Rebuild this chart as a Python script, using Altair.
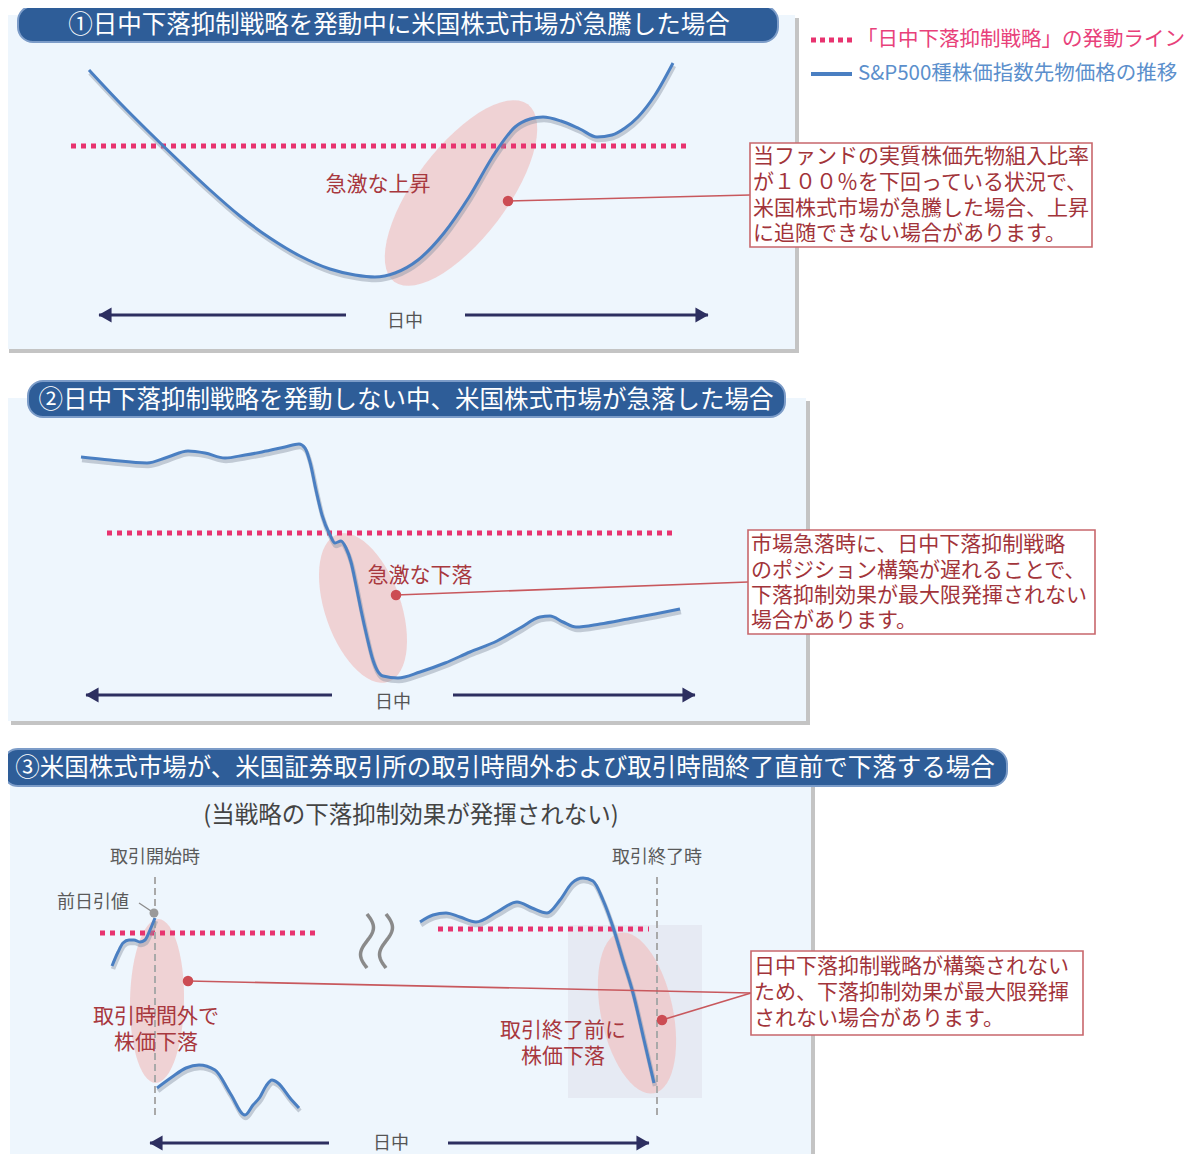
import math
import altair as alt
import pandas as pd

FONT = "Noto Sans CJK JP"

# ---------------- data ----------------
# panel 1 curve (S&P500 futures, sharp rise)
p1_x = [89, 120, 150, 180, 210, 240, 270, 300, 330, 355, 375, 395, 418, 444, 469, 495, 515, 530, 543, 561, 580, 597, 612, 625, 638, 655, 673]
p1_y = [70, 103, 133, 162, 190, 216, 238, 256, 269, 275, 277, 273, 260, 233, 197, 153, 127, 119, 117, 121, 129, 137, 135, 128, 117, 95, 63]
# panel 2 curve (sharp fall)
p2_x = [81, 110, 147, 168, 188, 205, 225, 245, 262, 285, 299, 305, 310, 316, 322, 330, 335, 341, 346, 351, 356, 361, 367, 372, 377, 383, 398, 420, 445, 470, 497, 520, 540, 550, 563, 576, 600, 628, 655, 680]
p2_y = [457, 460, 463, 457, 451, 453, 458, 455, 452, 447, 444, 448, 462, 490, 515, 535, 543, 541, 548, 562, 585, 610, 637, 657, 670, 676, 678, 672, 663, 652, 641, 628, 617, 616, 622, 627, 624, 619, 614, 609]
# panel 3 curve, three separate pieces
p3a_x = [112, 118, 123, 129, 134, 140, 145, 150, 155]
p3a_y = [966, 952, 943, 940, 940, 942, 940, 930, 918]
p3b_x = [157, 172, 186, 199, 215, 230, 245, 253, 260, 266, 272, 278, 290, 299]
p3b_y = [1088, 1077, 1068, 1065, 1070, 1093, 1115, 1105, 1097, 1086, 1080, 1083, 1098, 1108]
p3c_x = [420, 433, 446, 460, 476, 497, 517, 532, 547, 560, 572, 583, 593, 603, 613, 623, 633, 644, 654]
p3c_y = [922, 915, 913, 917, 922, 912, 902, 908, 913, 900, 883, 878, 881, 900, 927, 960, 993, 1040, 1083]

# trigger lines (dotted)
trig_x1 = [71, 107, 100, 438]
trig_x2 = [686, 673, 316, 649]
trig_y = [146, 533, 933, 929]

# panels
panel_x1 = [6, 8, 10]
panel_x2 = [795, 806, 811]
panel_y1 = [15, 398, 770]
panel_y2 = [349, 721, 1170]

# title bars
title_x1 = [18, 28, 3]
title_x2 = [778, 785, 1007]
title_y1 = [6, 381, 749]
title_y2 = [42, 417, 786]
titles = [
    "①日中下落抑制戦略を発動中に米国株式市場が急騰した場合",
    "②日中下落抑制戦略を発動しない中、米国株式市場が急落した場合",
    "③米国株式市場が、米国証券取引所の取引時間外および取引時間終了直前で下落する場合",
]
title_cx = [399, 406, 505]
title_cy = [26, 401, 769]
title_fs = [24.5, 24.5, 24.5]

# callout boxes
box_x1 = [750, 748, 751]
box_x2 = [1092, 1095, 1083]
box_y1 = [143, 530, 951]
box_y2 = [247, 634, 1035]
box_lines = [
    ["当ファンドの実質株価先物組入比率", "が１００％を下回っている状況で、", "米国株式市場が急騰した場合、上昇", "に追随できない場合があります。"],
    ["市場急落時に、日中下落抑制戦略", "のポジション構築が遅れることで、", "下落抑制効果が最大限発揮されない", "場合があります。"],
    ["日中下落抑制戦略が構築されない", "ため、下落抑制効果が最大限発揮", "されない場合があります。"],
]
box_line_y = [[157, 183, 209, 234], [545, 571, 596, 621], [967, 993, 1019]]

# callout leader lines: dot -> box
lead_x = [508, 396, 188, 662]
lead_y = [201, 595, 981, 1020]
lead_x2 = [750, 748, 751, 751]
lead_y2 = [195, 582, 993, 993]

# highlight ellipses: centre, semi-axes, tilt
ell_x = [461, 363, 157, 637]
ell_y = [193, 608, 1001, 1013]
ell_a = [111, 78, 82, 82]
ell_b = [46, 38, 27, 36]
ell_tilt = [307, 71, 91, 78]

# ellipse labels
lab_text = ["急激な上昇", "急激な下落", "取引時間外で", "株価下落", "取引終了前に", "株価下落"]
lab_x = [378, 420, 156, 156, 563, 563]
lab_y = [185, 576, 1017, 1043, 1031, 1057]

# "日中" arrows
arr_y = [315, 695, 1143]
arr_left_tip = [99, 86, 150]
arr_left_end = [346, 332, 329]
arr_right_start = [465, 453, 448]
arr_right_tip = [708, 695, 649]
arr_lab_x = [405, 393, 391]
arr_lab_y = [322, 703, 1144]

# panel 3 session markers
sess_x = [155, 657]
sess_y1 = [877, 877]
sess_y2 = [1118, 1118]
sess_text = ["取引開始時", "取引終了時"]
sess_text_y = [858, 858]

# shaded "before close" zone
zone = dict(x1=568, x2=702, y1=925, y2=1098)

# legend
legend_text = ["「日中下落抑制戦略」の発動ライン", "S&P500種株価指数先物価格の推移"]
legend_y = [40, 74]

# ---------------- helpers ----------------
xs = alt.Scale(domain=[8, 1189], nice=False, zero=False)
ys = alt.Scale(domain=[8, 1154], nice=False, zero=False, reverse=True)


def X(f):
    return alt.X(f, type="quantitative", scale=xs, axis=None)


def Y(f):
    return alt.Y(f, type="quantitative", scale=ys, axis=None)


def X2(f):
    return alt.X2(f)


def Y2(f):
    return alt.Y2(f)


def ellipse_path(ratio, n=60):
    pts = []
    for i in range(n):
        t = 2 * math.pi * i / n
        pts.append(f"{math.cos(t):.4f},{ratio * math.sin(t):.4f}")
    return "M" + " L".join(pts) + " Z"


def wave_path(n=40):
    # glyph for the "break" symbol: one vertical S-stroke in unit coordinates
    pts = []
    for i in range(n + 1):
        t = -1 + 2 * i / n
        pts.append(f"{0.24 * math.sin(math.pi * (t + 1)):.4f},{t:.4f}")
    return "M" + " L".join(pts)


layers = []

# panel shadows and backgrounds
pan = pd.DataFrame({"x1": panel_x1, "x2": panel_x2, "y1": panel_y1, "y2": panel_y2})
layers.append(
    alt.Chart(pan).transform_calculate(sx1="datum.x1+3", sx2="datum.x2+4", sy1="datum.y1+3", sy2="datum.y2+4")
    .mark_rect(color="#BEBEBE", opacity=0.9)
    .encode(x=X("sx1"), x2=X2("sx2"), y=Y("sy1"), y2=Y2("sy2"))
)
layers.append(
    alt.Chart(pan).mark_rect(color="#EEF6FD")
    .encode(x=X("x1"), x2=X2("x2"), y=Y("y1"), y2=Y2("y2"))
)

# title bars
tb = pd.DataFrame({"x1": title_x1, "x2": title_x2, "y1": title_y1, "y2": title_y2,
                   "t": titles, "cx": title_cx, "cy": title_cy, "fs": title_fs})
layers.append(
    alt.Chart(tb).mark_rect(fill="#2E5D98", stroke="#7C9CC8", strokeWidth=2, cornerRadius=15)
    .encode(x=X("x1"), x2=X2("x2"), y=Y("y1"), y2=Y2("y2"))
)
layers.append(
    alt.Chart(tb).mark_text(font=FONT, color="white", align="center", baseline="middle")
    .encode(x=X("cx"), y=Y("cy"), text="t:N", size=alt.Size("fs:Q", scale=None))
)

# shaded zone
layers.append(
    alt.Chart(pd.DataFrame([zone])).mark_rect(color="#E6EAF3")
    .encode(x=X("x1"), x2=X2("x2"), y=Y("y1"), y2=Y2("y2"))
)

# ellipses
for cx, cy, a, b, tilt in zip(ell_x, ell_y, ell_a, ell_b, ell_tilt):
    layers.append(
        alt.Chart(pd.DataFrame({"x": [cx], "y": [cy]}))
        .mark_point(shape=ellipse_path(b / a), filled=True, fill="#F0C4C4", fillOpacity=0.85,
                    strokeWidth=0, size=(2 * a) ** 2, angle=tilt, opacity=0.85)
        .encode(x=X("x"), y=Y("y"))
    )

# dotted trigger lines
trig = pd.DataFrame({"x1": trig_x1, "x2": trig_x2, "y": trig_y})
layers.append(
    alt.Chart(trig).mark_rule(color="#E8336F", strokeWidth=5, strokeDash=[5, 5])
    .encode(x=X("x1"), x2=X2("x2"), y=Y("y"))
)

# dashed session lines
sess = pd.DataFrame({"x": sess_x, "y1": sess_y1, "y2": sess_y2, "t": sess_text, "ty": sess_text_y})
layers.append(
    alt.Chart(sess).mark_rule(color="#A9A9A9", strokeWidth=2, strokeDash=[7, 4])
    .encode(x=X("x"), y=Y("y1"), y2=Y2("y2"))
)

# curves
segs = []
for name, cx_, cy_ in [("p1", p1_x, p1_y), ("p2", p2_x, p2_y), ("p3a", p3a_x, p3a_y),
                       ("p3b", p3b_x, p3b_y), ("p3c", p3c_x, p3c_y)]:
    for i, (a, b) in enumerate(zip(cx_, cy_)):
        segs.append({"seg": name, "x": a, "y": b, "o": i})
curve = pd.DataFrame(segs)
layers.append(
    alt.Chart(curve).transform_calculate(sx="datum.x+1", sy="datum.y+3")
    .mark_line(color="#8A95A3", strokeWidth=4.5, opacity=0.45, interpolate="monotone")
    .encode(x=X("sx"), y=Y("sy"), detail="seg:N", order="o:Q")
)
layers.append(
    alt.Chart(curve).mark_line(color="#4A7FC2", strokeWidth=3, interpolate="monotone")
    .encode(x=X("x"), y=Y("y"), detail="seg:N", order="o:Q")
)

# callout leader lines + dots
lead = pd.DataFrame({"x": lead_x, "y": lead_y, "x2": lead_x2, "y2": lead_y2})
layers.append(
    alt.Chart(lead).mark_rule(color="#C8585D", strokeWidth=1.6)
    .encode(x=X("x"), y=Y("y"), x2=X2("x2"), y2=Y2("y2"))
)
layers.append(
    alt.Chart(lead).mark_circle(color="#CC4C53", size=110, opacity=1)
    .encode(x=X("x"), y=Y("y"))
)

# callout boxes
bx = pd.DataFrame({"x1": box_x1, "x2": box_x2, "y1": box_y1, "y2": box_y2})
layers.append(
    alt.Chart(bx).mark_rect(fill="white", stroke="#C8676C", strokeWidth=1.6)
    .encode(x=X("x1"), x2=X2("x2"), y=Y("y1"), y2=Y2("y2"))
)
brow = []
for x1, lines, ly in zip(box_x1, box_lines, box_line_y):
    for t, yy in zip(lines, ly):
        brow.append({"x": x1 + 3, "y": yy, "t": t})
layers.append(
    alt.Chart(pd.DataFrame(brow)).mark_text(font=FONT, fontSize=21, color="#A2343A", align="left",
                                            baseline="middle")
    .encode(x=X("x"), y=Y("y"), text="t:N")
)

# ellipse labels
lab = pd.DataFrame({"x": lab_x, "y": lab_y, "t": lab_text})
layers.append(
    alt.Chart(lab).mark_text(font=FONT, fontSize=21, color="#A8383E", align="center", baseline="middle")
    .encode(x=X("x"), y=Y("y"), text="t:N")
)

# arrows
arr = pd.DataFrame({"y": arr_y, "lt": arr_left_tip, "le": arr_left_end, "rs": arr_right_start,
                    "rt": arr_right_tip, "lx": arr_lab_x, "ly": arr_lab_y, "t": ["日中"] * 3})
layers.append(
    alt.Chart(arr).mark_rule(color="#2D2F60", strokeWidth=3)
    .encode(x=X("lt"), x2=X2("le"), y=Y("y"))
)
layers.append(
    alt.Chart(arr).mark_rule(color="#2D2F60", strokeWidth=3)
    .encode(x=X("rs"), x2=X2("rt"), y=Y("y"))
)
layers.append(
    alt.Chart(arr).transform_calculate(hx="datum.lt+6")
    .mark_point(shape="triangle-left", filled=True, color="#2D2F60", size=230, opacity=1)
    .encode(x=X("hx"), y=Y("y"))
)
layers.append(
    alt.Chart(arr).transform_calculate(hx="datum.rt-6")
    .mark_point(shape="triangle-right", filled=True, color="#2D2F60", size=230, opacity=1)
    .encode(x=X("hx"), y=Y("y"))
)
layers.append(
    alt.Chart(arr).mark_text(font=FONT, fontSize=18, color="#555555", align="center", baseline="middle")
    .encode(x=X("lx"), y=Y("ly"), text="t:N")
)

# session labels
layers.append(
    alt.Chart(sess).mark_text(font=FONT, fontSize=18, color="#5A5A5A", align="center", baseline="middle")
    .encode(x=X("x"), y=Y("ty"), text="t:N")
)

# previous close marker
prev = pd.DataFrame({"x": [139], "y": [903], "x2": [151], "y2": [911], "px": [154], "py": [913],
                     "t": ["前日引値"], "tx": [93]})
layers.append(
    alt.Chart(prev).mark_rule(color="#8C8C8C", strokeWidth=1.3)
    .encode(x=X("x"), y=Y("y"), x2=X2("x2"), y2=Y2("y2"))
)
layers.append(
    alt.Chart(prev).mark_circle(color="#9A9A9A", size=80, opacity=1)
    .encode(x=X("px"), y=Y("py"))
)
layers.append(
    alt.Chart(prev).mark_text(font=FONT, fontSize=18, color="#5A5A5A", align="center", baseline="middle")
    .encode(x=X("tx"), y=Y("y"), text="t:N")
)

# subtitle panel 3
layers.append(
    alt.Chart(pd.DataFrame({"x": [411], "y": [816], "t": ["(当戦略の下落抑制効果が発揮されない)"]}))
    .mark_text(font=FONT, fontSize=23.5, color="#444444", align="center", baseline="middle")
    .encode(x=X("x"), y=Y("y"), text="t:N")
)

# break symbol (two wavy strokes)
wv = pd.DataFrame({"x": [367, 386], "y": [941, 941]})
layers.append(
    alt.Chart(wv).mark_point(shape=wave_path(), filled=False, stroke="#8A8A8A", strokeWidth=3.5,
                             size=54 ** 2, opacity=1)
    .encode(x=X("x"), y=Y("y"))
)

# legend
leg = pd.DataFrame({"x1": [811, 811], "x2": [852, 852], "y": legend_y, "t": legend_text,
                    "tx": [857, 858], "c": ["#E8417A", "#5B8FCC"]})
layers.append(
    alt.Chart(leg.iloc[[0]]).mark_rule(color="#E8336F", strokeWidth=5, strokeDash=[5, 4])
    .encode(x=X("x1"), x2=X2("x2"), y=Y("y"))
)
layers.append(
    alt.Chart(leg.iloc[[1]]).mark_rule(color="#4A7FC2", strokeWidth=4)
    .encode(x=X("x1"), x2=X2("x2"), y=Y("y"))
)
layers.append(
    alt.Chart(leg).mark_text(font=FONT, fontSize=20.5, align="left", baseline="middle")
    .encode(x=X("tx"), y=Y("y"), text="t:N", color=alt.Color("c:N", scale=None))
)

chart = alt.layer(*layers).properties(
    width=1181, height=1146, padding=0, autosize=alt.AutoSizeParams(type="none"),
    background="white"
).configure_view(stroke=None)

chart.save("out.html", embed_options={"renderer": "svg", "actions": False})
